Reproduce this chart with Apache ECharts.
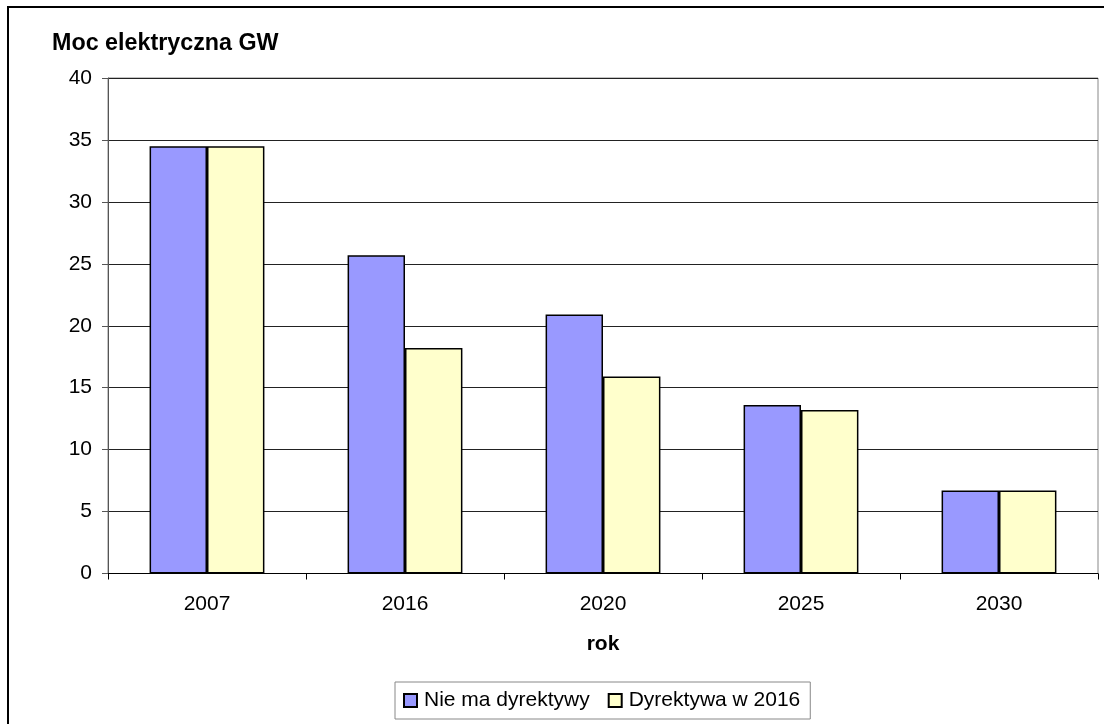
<!DOCTYPE html>
<html>
<head>
<meta charset="utf-8">
<title>Moc elektryczna GW</title>
<script src="https://cdn.jsdelivr.net/npm/echarts@6/dist/echarts.min.js"></script>
<style>
  html, body { margin: 0; padding: 0; background: #fff; }
  #chart { width: 1104px; height: 724px; }
</style>
</head>
<body>
<div id="chart"></div>
<script>
// Electric capacity (GW) by year, with and without the 2016 directive
const years = ['2007', '2016', '2020', '2025', '2030'];
const noDirective = [34.5, 25.7, 20.9, 13.6, 6.7];
const directive2016 = [34.5, 18.2, 15.9, 13.2, 6.7];
const seriesNames = ['Nie ma dyrektywy', 'Dyrektywa w 2016'];
const yTicks = { min: 0, max: 40, interval: 5 };

const FONT = "'Liberation Sans', Arial, sans-serif";

const chart = echarts.init(document.getElementById('chart'), null, { renderer: 'canvas' });

chart.setOption({
  animation: false,
  backgroundColor: '#fff',
  textStyle: { fontFamily: FONT },
  title: {
    text: 'Moc elektryczna GW',
    left: 47,
    top: 27,
    textStyle: { fontFamily: FONT, fontSize: 23.3, fontWeight: 'bold', color: '#000' }
  },
  graphic: [{
    type: 'rect',
    shape: { x: 8, y: 7, width: 1120, height: 740 },
    style: { fill: 'none', stroke: '#000', lineWidth: 2 },
    silent: true,
    z: -1
  }],
  legend: {
    left: 395,
    top: 682,
    orient: 'horizontal',
    padding: [8, 10, 8, 8],
    itemGap: 18,
    itemWidth: 13,
    itemHeight: 13,
    borderColor: '#888',
    borderWidth: 1,
    icon: 'rect',
    textStyle: { fontFamily: FONT, fontSize: 21, color: '#000', padding: [0, 0, 0, 2] },
    data: seriesNames
  },
  grid: {
    left: 108,
    top: 78,
    right: 6,
    bottom: 150.5,
    show: true,
    borderColor: '#888',
    borderWidth: 1,
    containLabel: false
  },
  xAxis: {
    type: 'category',
    data: years,
    name: 'rok',
    nameLocation: 'middle',
    nameGap: 60,
    nameTextStyle: { fontFamily: FONT, fontSize: 21, fontWeight: 'bold', color: '#000' },
    axisLine: { show: true, lineStyle: { color: '#000', width: 1 } },
    axisTick: { show: true, length: 6, inside: false, lineStyle: { color: '#000' } },
    axisLabel: { fontFamily: FONT, fontSize: 21, color: '#000', margin: 20 },
    splitLine: { show: false }
  },
  yAxis: {
    type: 'value',
    min: yTicks.min,
    max: yTicks.max,
    interval: yTicks.interval,
    axisLine: { show: true, lineStyle: { color: '#555', width: 1 } },
    axisTick: { show: true, length: 6, inside: false, lineStyle: { color: '#555' } },
    axisLabel: { fontFamily: FONT, fontSize: 21, color: '#000', margin: 16 },
    splitLine: { show: true, lineStyle: { color: '#222', width: 1 } }
  },
  series: [
    {
      name: seriesNames[0],
      type: 'bar',
      data: noDirective,
      barGap: '0%',
      barCategoryGap: '42%',
      itemStyle: { color: '#9999FF', borderColor: '#000', borderWidth: 1.5 }
    },
    {
      name: seriesNames[1],
      type: 'bar',
      data: directive2016,
      barGap: '0%',
      barCategoryGap: '42%',
      itemStyle: { color: '#FFFFCC', borderColor: '#000', borderWidth: 1.5 }
    }
  ]
});
</script>
</body>
</html>
